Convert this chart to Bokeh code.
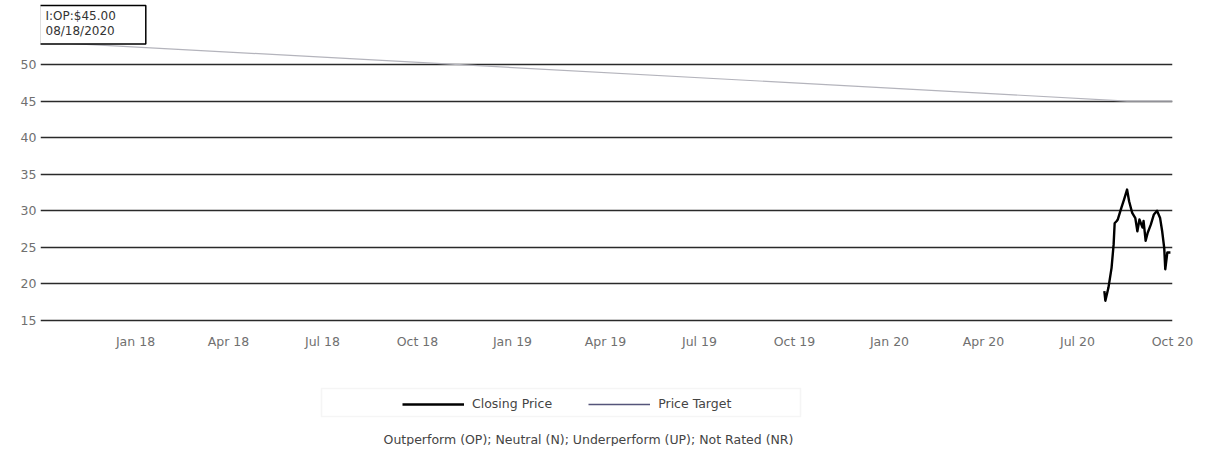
import datetime as dt
import numpy as np
from bokeh.plotting import figure
from bokeh.layouts import column
from bokeh.models import (FixedTicker, Legend, LegendItem, Label, Range1d,
                          BoxAnnotation, DatetimeTickFormatter)
from bokeh.embed import file_html
from bokeh.resources import INLINE

# ---------------- data ----------------
price_dates = ["2020-07-27", "2020-07-28", "2020-07-31", "2020-08-03", "2020-08-05",
               "2020-08-06", "2020-08-08", "2020-08-09", "2020-08-12", "2020-08-15",
               "2020-08-18", "2020-08-20", "2020-08-23", "2020-08-26", "2020-08-28",
               "2020-08-30", "2020-09-02", "2020-09-03", "2020-09-05", "2020-09-07",
               "2020-09-10", "2020-09-13", "2020-09-16", "2020-09-19", "2020-09-21",
               "2020-09-23", "2020-09-24", "2020-09-26", "2020-09-29"]
closing_price = [19.0, 17.7, 19.5, 22.2, 25.4, 28.3, 28.6, 28.8, 30.2, 31.5,
                 32.9, 31.3, 29.7, 29.0, 27.2, 28.8, 27.7, 28.6, 25.9, 27.0,
                 28.1, 29.5, 30.0, 29.0, 27.2, 24.9, 22.0, 24.3, 24.3]

target_dates = ["2017-10-01", "2020-08-18", "2020-10-01"]
target_values = [53.1, 45.0, 45.0]

tick_dates = ["2018-01-01", "2018-04-01", "2018-07-01", "2018-10-01",
              "2019-01-01", "2019-04-01", "2019-07-01", "2019-10-01",
              "2020-01-01", "2020-04-01", "2020-07-01", "2020-10-01"]
tick_labels = ["Jan 18", "Apr 18", "Jul 18", "Oct 18", "Jan 19", "Apr 19",
               "Jul 19", "Oct 19", "Jan 20", "Apr 20", "Jul 20", "Oct 20"]
y_ticks = [15, 20, 25, 30, 35, 40, 45, 50]

legend_labels = ["Closing Price", "Price Target"]
box_text = "I:OP:$45.00\n08/18/2020"
footer_text = "Outperform (OP); Neutral (N); Underperform (UP); Not Rated (NR)"

# ---------------- helpers ----------------
def to_dt(s):
    return dt.datetime.strptime(s, "%Y-%m-%d")

def to_ms(s):
    return (to_dt(s) - dt.datetime(1970, 1, 1)).total_seconds() * 1000.0

FONT = "DejaVu Sans"
FS = "12.5px"
W = 1199

# ---------------- main chart ----------------
p = figure(width=W, height=360, x_axis_type="datetime",
           x_range=Range1d(to_dt("2017-10-01"), to_dt("2020-10-01")),
           y_range=Range1d(13.63, 58.75),
           output_backend="svg", toolbar_location=None,
           min_border_left=40, min_border_right=27,
           min_border_top=0, min_border_bottom=30)
p.outline_line_color = None
p.background_fill_color = "white"
p.border_fill_color = "white"

p.xgrid.grid_line_color = None
p.ygrid.grid_line_color = "#2a2a2a"
p.ygrid.grid_line_width = 1.7

tick_ms = [to_ms(d) for d in tick_dates]
p.xaxis.ticker = FixedTicker(ticks=tick_ms)
p.xaxis.formatter = DatetimeTickFormatter(months="%b %y", days="%b %y")
p.xaxis.major_label_overrides = {t: l for t, l in zip(tick_ms, tick_labels)}
p.yaxis.ticker = FixedTicker(ticks=y_ticks)
for ax in (p.xaxis, p.yaxis):
    ax.axis_line_color = None
    ax.major_tick_line_color = None
    ax.minor_tick_line_color = None
    ax.major_tick_out = 0
    ax.major_tick_in = 0
    ax.major_label_text_font = FONT
    ax.major_label_text_font_size = FS
    ax.major_label_text_color = "#707070"
p.xaxis.major_label_standoff = 3
p.yaxis.major_label_standoff = 4

p.line([to_dt(d) for d in target_dates], target_values,
       line_color="#b4b4bc", line_width=1.2)
p.line([to_dt(d) for d in price_dates], closing_price,
       line_color="black", line_width=2.4, line_join="round")

p.add_layout(Label(x=-1, y=325, x_units="screen", y_units="screen",
                   text=box_text, anchor="top_left",
                   text_font=FONT, text_font_size="12px", text_color="#333333",
                   text_line_height=1.1,
                   border_line_color="black", border_line_width=1.5,
                   background_fill_color="white",
                   padding=dict(left=6, right=30, top=3, bottom=6)))

# ---------------- legend / footer strip ----------------
q = figure(width=W, height=86, x_range=Range1d(0, 1), y_range=Range1d(0, 1),
           output_backend="svg", toolbar_location=None,
           min_border_left=0, min_border_right=0,
           min_border_top=0, min_border_bottom=0)
q.axis.visible = False
q.grid.visible = False
q.outline_line_color = None
q.border_fill_color = "white"

leg_close = q.line([np.nan], [np.nan], line_color="black", line_width=2.4)
leg_target = q.line([np.nan], [np.nan], line_color="#55557a", line_width=1.5)

q.add_layout(BoxAnnotation(left=281, right=760, bottom=30, top=58,
                           left_units="screen", right_units="screen",
                           top_units="screen", bottom_units="screen",
                           fill_color="white", fill_alpha=1.0,
                           line_color="#dedede", line_width=1.5, level="underlay"))

legend = Legend(items=[LegendItem(label=legend_labels[0], renderers=[leg_close]),
                       LegendItem(label=legend_labels[1], renderers=[leg_target])],
                location=(362, 35), orientation="horizontal",
                border_line_color=None, background_fill_alpha=0,
                label_text_font=FONT, label_text_font_size=FS,
                label_text_color="#444444", glyph_width=62, glyph_height=14,
                label_standoff=8, spacing=36, padding=2, margin=0)
q.add_layout(legend, "center")

q.add_layout(Label(x=548, y=7, x_units="screen", y_units="screen",
                   text=footer_text, text_align="center", text_baseline="middle",
                   text_font=FONT, text_font_size=FS, text_color="#444444"))

open("out.html", "w").write(file_html(column(p, q), INLINE))
